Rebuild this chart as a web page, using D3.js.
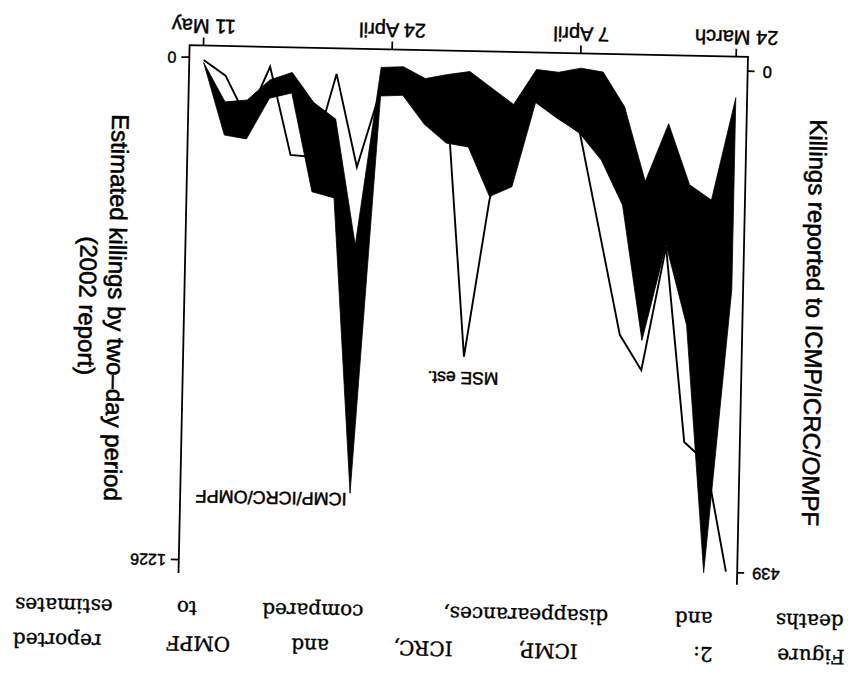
<!DOCTYPE html>
<html><head><meta charset="utf-8">
<script src="https://cdn.jsdelivr.net/npm/d3@7"></script>
<style>body{margin:0;background:#fff}</style>
</head><body>
<svg id="chart" width="858" height="674"></svg>
<script>
// ---- data (chronological, two-day periods, 1999) ----
const dates = ["1999-03-24","1999-03-26","1999-03-28","1999-03-30","1999-04-01","1999-04-03","1999-04-05",
  "1999-04-07","1999-04-09","1999-04-11","1999-04-13","1999-04-15","1999-04-17","1999-04-19","1999-04-21",
  "1999-04-23","1999-04-25","1999-04-27","1999-04-29","1999-05-01","1999-05-03","1999-05-05","1999-05-07",
  "1999-05-09","1999-05-11"];
// Estimated killings by two-day period (2002 report), MSE estimate
const mseEstimate = [1226, 960, 912, 437, 739, 654, 407, 161, 128, 90, 111, 332, 715, 90, 70, 53, 69, 258, 32, 236, 232, 18, 146, 42, 5];
// Killings reported to ICMP/ICRC/OMPF (band lower / upper edge)
const icmpLow  = [23, 113, 100, 47, 98, 33, 3, 0, 4, 2, 33, 19, 5, 8, 12, 2, 3, 159, 49, 35, 9, 16, 34, 36, 2];
const icmpHigh = [191, 439, 223, 153, 237, 119, 80, 57, 44, 30, 105, 114, 71, 68, 52, 27, 28, 376, 118, 113, 27, 32, 68, 65, 2];
const tickDates = ["1999-03-24","1999-04-07","1999-04-24","1999-05-11"];
const tickLabels = ["24 March","7 April","24 April","11 May"];
const icmpTicks = [0, 439];
const mseTicks = [0, 1226];
const leftTitle = "Killings reported to ICMP/ICRC/OMPF";
const rightTitle = ["Estimated killings by two\u2013day period", "(2002 report)"];
const mseLabel = "MSE est.";
const icmpLabel = "ICMP/ICRC/OMPF";
const captionLine1 = ["Figure","2:","ICMP,","ICRC,","and","OMPF","reported"];
const captionLine2 = ["deaths","and","disappearances,","compared","to","estimates"];

// ---- layout ----
const cap1X = [40, 148, 303, 428, 541, 653, 794];
const cap2X = [42, 158, 326, 539, 665, 788];
const parse = d3.timeParse("%Y-%m-%d");
const rows = dates.map((d, i) => ({date: parse(d), mse: mseEstimate[i], lo: icmpLow[i], hi: icmpHigh[i]}));

const svg = d3.select("#chart");
svg.append("rect").attr("width", 858).attr("height", 674).attr("fill", "#fff");
const tilt = svg.append("g").attr("transform", "rotate(1.2,463,315)");
const g = tilt.append("g").attr("transform", "rotate(180,429,337)");

const x = d3.scaleTime().domain([parse(dates[0]), parse(dates[dates.length - 1])]).range([126.8, 659.6]);
const yL = d3.scaleLinear().domain([0, 439]).range([608.25, 106.5]);
const yR = d3.scaleLinear().domain([0, 1226]).range([610.5, 108]);

const sans = "'Liberation Sans', Arial, Helvetica, sans-serif";
const box = {left: 115.5, right: 674, top: 95, bottom: 623};

// band
g.append("path").datum(rows)
  .attr("d", d3.area().x(d => x(d.date)).y0(d => yL(d.hi)).y1(d => yL(d.lo)))
  .attr("fill", "#000").attr("stroke", "#000").attr("stroke-width", 0.8);
// MSE line
g.append("path").datum(rows)
  .attr("d", d3.line().x(d => x(d.date)).y(d => yR(d.mse)))
  .attr("fill", "none").attr("stroke", "#000").attr("stroke-width", 1.9).attr("stroke-linejoin", "miter");

// box (left, bottom, right)
g.append("path")
  .attr("d", `M${box.left},${box.top}V${box.bottom}H${box.right}V${box.top}`)
  .attr("fill", "none").attr("stroke", "#000").attr("stroke-width", 1.8);

// axes
const ax = g.append("g").attr("transform", `translate(0,${box.bottom})`)
  .call(d3.axisBottom(x).tickValues(tickDates.map(parse)).tickSize(8).tickPadding(4)
    .tickFormat((d, i) => tickLabels[i]));
const axL = g.append("g").attr("transform", `translate(${box.left},0)`)
  .call(d3.axisLeft(yL).tickValues(icmpTicks).tickSize(7).tickPadding(8).tickFormat(d3.format("d")));
const axR = g.append("g").attr("transform", `translate(${box.right},0)`)
  .call(d3.axisRight(yR).tickValues(mseTicks).tickSize(8).tickPadding(5).tickFormat(d3.format("d")));
[ax, axL, axR].forEach(a => {
  a.select(".domain").remove();
  a.selectAll("line").attr("stroke", "#000").attr("stroke-width", 1.7);
  a.selectAll("text").attr("fill", "#000").attr("font-family", sans)
    .attr("stroke", "#000").attr("stroke-width", 0.45);
});
ax.selectAll("text").attr("font-size", 20);
axL.selectAll("text").attr("font-size", 16.5);
axR.selectAll("text").attr("font-size", 16);

// axis titles
const titleStyle = sel => sel.attr("text-anchor", "middle").attr("font-family", sans).attr("font-size", 24)
  .attr("stroke", "#000").attr("stroke-width", 0.55);
g.append("text").attr("transform", "translate(52,358.7) rotate(-90)").call(titleStyle).text(leftTitle);
g.append("text").attr("transform", "translate(750,359.2) rotate(-90)").call(titleStyle).text(rightTitle[0]);
g.append("text").attr("transform", "translate(779,360.4) rotate(-90)").call(titleStyle).text(rightTitle[1]);

// annotations
const iMse = mseEstimate.indexOf(d3.max(mseEstimate.slice(8, 16)));
g.append("text").attr("x", x(rows[iMse].date) + 0.5).attr("y", yR(rows[iMse].mse) - 15.4)
  .attr("text-anchor", "middle").attr("font-family", sans).attr("font-size", 17.5)
  .attr("stroke", "#000").attr("stroke-width", 0.5).text(mseLabel);
const iIc = icmpHigh.indexOf(d3.max(icmpHigh.slice(10)));
g.append("text").attr("x", x(rows[iIc].date) + 3.4).attr("y", yL(rows[iIc].hi))
  .attr("text-anchor", "start").attr("font-family", sans).attr("font-size", 18)
  .attr("stroke", "#000").attr("stroke-width", 0.5).text(icmpLabel);

// caption
const serif = "'DejaVu Serif', 'Liberation Serif', serif";
g.selectAll("text.cap1").data(captionLine1).join("text").attr("class", "cap1")
  .attr("x", (d, i) => cap1X[i]).attr("y", 32).attr("text-anchor", "middle")
  .attr("font-family", serif).attr("font-size", 20).attr("stroke", "#000").attr("stroke-width", 0.35).text(d => d);
g.selectAll("text.cap2").data(captionLine2).join("text").attr("class", "cap2")
  .attr("x", (d, i) => cap2X[i]).attr("y", 67).attr("text-anchor", "middle")
  .attr("font-family", serif).attr("font-size", 20).attr("stroke", "#000").attr("stroke-width", 0.35).text(d => d);
</script>
</body></html>
